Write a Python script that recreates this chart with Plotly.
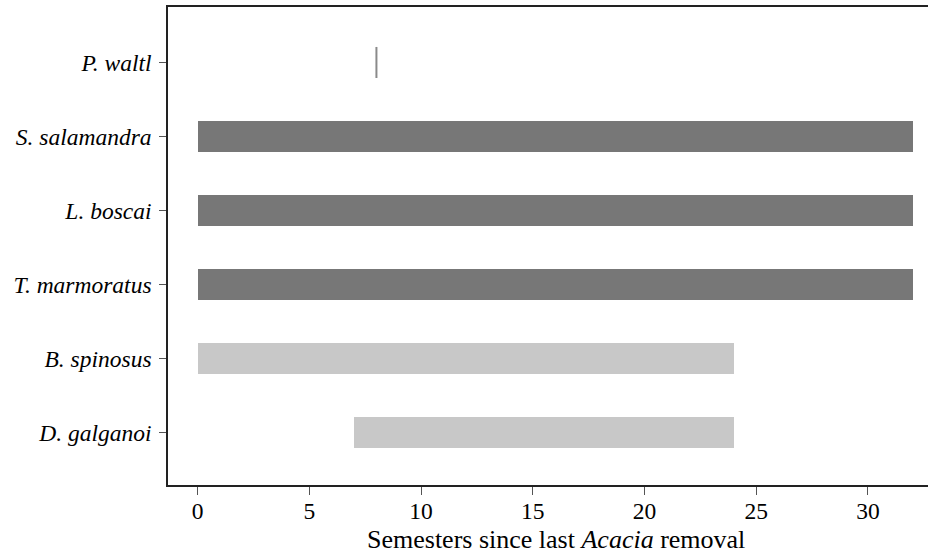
import plotly.graph_objects as go

species = ["P. waltl", "S. salamandra", "L. boscai", "T. marmoratus", "B. spinosus", "D. galganoi"]
start = [8, 0, 0, 0, 0, 7]
end = [8, 32, 32, 32, 24, 24]
group = ["dark", "dark", "dark", "dark", "light", "light"]
x_ticks = [0, 5, 10, 15, 20, 25, 30]

colors = {"dark": "#777777", "light": "#c8c8c8"}
bar_h = 0.42
n = len(species)
ypos = [n - 1 - i for i in range(n)]

fig = go.Figure()
bx, by, bb, bc = [], [], [], []
for s, e, g, y in zip(start, end, group, ypos):
    if e > s:
        bx.append(e - s); bb.append(s); by.append(y); bc.append(colors[g])
fig.add_trace(go.Bar(x=bx, y=by, base=bb, orientation="h", width=bar_h,
                     marker=dict(color=bc, line=dict(width=0)), showlegend=False))
# zero-length ranges drawn as a thin vertical mark
for s, e, y in zip(start, end, ypos):
    if e == s:
        fig.add_trace(go.Scatter(x=[s, s], y=[y - bar_h / 2, y + bar_h / 2], mode="lines",
                                 line=dict(color="#8a8a8a", width=2), showlegend=False))

font_family = "Liberation Serif"
fig.update_layout(
    width=928, height=553,
    margin=dict(l=168, r=0, t=7, b=68),
    plot_bgcolor="white", paper_bgcolor="white",
    font=dict(family=font_family, size=23.5, color="black"),
    bargap=0,
)
fig.update_xaxes(range=[-1.33, 32.69], tickvals=x_ticks, ticks="outside", ticklen=8,
                 tickcolor="#555555", tickwidth=1, showgrid=False, zeroline=False,
                 showline=True, linecolor="#222222", linewidth=1.5, mirror=True,
                 ticklabelstandoff=-4,
                 tickfont=dict(size=23.5, family=font_family))
fig.update_yaxes(range=[-0.71, 5.75], tickvals=ypos,
                 ticktext=["<i>%s</i>" % s for s in species], ticks="outside", ticklen=7,
                 tickcolor="#555555", tickwidth=1, showgrid=False, zeroline=False,
                 showline=True, linecolor="#222222", linewidth=1.5, mirror=False,
                 ticklabelstandoff=3,
                 tickfont=dict(size=23.5, family=font_family))
fig.add_annotation(text="Semesters since last <i>Acacia</i> removal", xref="paper", yref="paper",
                   x=0.5105, y=-0.115, xanchor="center", yanchor="middle", showarrow=False,
                   font=dict(size=26, family=font_family))
fig.write_html("out.html")
